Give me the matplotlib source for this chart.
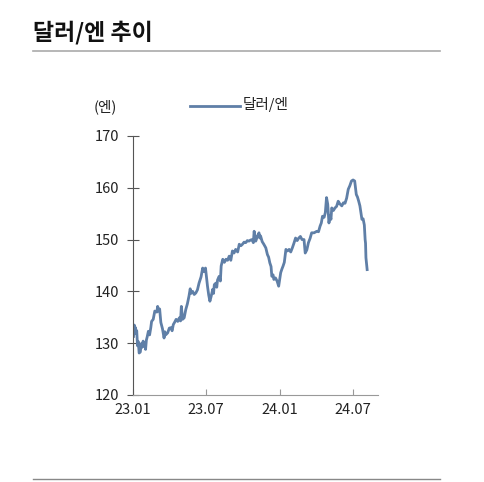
import matplotlib
matplotlib.use('Agg')
import matplotlib.pyplot as plt
import pandas as pd

plt.rcParams['font.family'] = ['Noto Sans CJK KR', 'DejaVu Sans']

# 달러/엔 환율 (그림에서 읽은 근사값)
dates = ['2023-01-02', '2023-01-04', '2023-01-05', '2023-01-07', '2023-01-09', '2023-01-10',
         '2023-01-12', '2023-01-14', '2023-01-16', '2023-01-19', '2023-01-21', '2023-01-23',
         '2023-01-26', '2023-01-28', '2023-01-30', '2023-02-01', '2023-02-03', '2023-02-05',
         '2023-02-08', '2023-02-11', '2023-02-14', '2023-02-16', '2023-02-20', '2023-02-22',
         '2023-02-24', '2023-03-01', '2023-03-03', '2023-03-06', '2023-03-08', '2023-03-11',
         '2023-03-15', '2023-03-19', '2023-03-21', '2023-03-23', '2023-03-28', '2023-04-01',
         '2023-04-05', '2023-04-08', '2023-04-11', '2023-04-14', '2023-04-18', '2023-04-22',
         '2023-04-26', '2023-04-29', '2023-05-01', '2023-05-04', '2023-05-08', '2023-05-12',
         '2023-05-16', '2023-05-20', '2023-05-23', '2023-05-25', '2023-05-29', '2023-06-02',
         '2023-06-06', '2023-06-10', '2023-06-14', '2023-06-19', '2023-06-23', '2023-06-27',
         '2023-06-30', '2023-07-05', '2023-07-08', '2023-07-11', '2023-07-14', '2023-07-18',
         '2023-07-20', '2023-07-22', '2023-07-26', '2023-07-28', '2023-07-30', '2023-08-03',
         '2023-08-06', '2023-08-08', '2023-08-12', '2023-08-16', '2023-08-20', '2023-08-24',
         '2023-08-28', '2023-09-01', '2023-09-05', '2023-09-09', '2023-09-13', '2023-09-18',
         '2023-09-22', '2023-09-26', '2023-09-30', '2023-10-04', '2023-10-08', '2023-10-12',
         '2023-10-16', '2023-10-20', '2023-10-24', '2023-10-27', '2023-10-29', '2023-11-02',
         '2023-11-06', '2023-11-10', '2023-11-12', '2023-11-14', '2023-11-18', '2023-11-22',
         '2023-11-27', '2023-12-01', '2023-12-04', '2023-12-07', '2023-12-10', '2023-12-12',
         '2023-12-15', '2023-12-17', '2023-12-21', '2023-12-25', '2023-12-29', '2024-01-03',
         '2024-01-06', '2024-01-09', '2024-01-12', '2024-01-16', '2024-01-20', '2024-01-24',
         '2024-01-28', '2024-02-01', '2024-02-05', '2024-02-09', '2024-02-13', '2024-02-17',
         '2024-02-21', '2024-02-25', '2024-03-01', '2024-03-04', '2024-03-08', '2024-03-12',
         '2024-03-16', '2024-03-20', '2024-03-26', '2024-04-02', '2024-04-06', '2024-04-10',
         '2024-04-13', '2024-04-16', '2024-04-20', '2024-04-23', '2024-04-26', '2024-04-29',
         '2024-05-02', '2024-05-05', '2024-05-07', '2024-05-09', '2024-05-13', '2024-05-17',
         '2024-05-21', '2024-05-25', '2024-05-29', '2024-06-03', '2024-06-07', '2024-06-11',
         '2024-06-15', '2024-06-19', '2024-06-23', '2024-06-27', '2024-07-01', '2024-07-05',
         '2024-07-09', '2024-07-12', '2024-07-15', '2024-07-18', '2024-07-20', '2024-07-23',
         '2024-07-26', '2024-07-29', '2024-07-31', '2024-08-01', '2024-08-02', '2024-08-05']
usdjpy = [131.3, 133.5, 132.0, 133.0, 131.8, 132.4, 129.5, 130.3, 128.1, 128.3, 129.9, 129.2,
          130.4, 129.4, 130.0, 128.8, 130.6, 131.2, 132.3, 131.6, 133.0, 134.2, 134.6, 135.4,
          136.2, 136.0, 137.1, 136.2, 136.6, 134.0, 132.8, 131.0, 132.2, 131.6, 132.0, 132.9,
          133.0, 132.4, 133.6, 134.0, 134.6, 134.2, 134.9, 134.3, 137.1, 134.6, 134.9, 136.5,
          137.6, 139.1, 140.5, 139.6, 140.0, 139.4, 139.7, 140.3, 141.6, 142.8, 144.5, 143.8,
          144.5, 141.0, 139.3, 138.1, 139.0, 140.4, 139.6, 141.3, 141.6, 140.8, 142.2, 142.9,
          142.0, 144.9, 146.2, 145.6, 146.2, 146.0, 146.8, 146.0, 147.8, 147.4, 148.1, 147.6,
          149.1, 148.8, 149.1, 149.5, 149.4, 149.8, 149.7, 149.9, 150.0, 149.4, 151.6, 149.7,
          150.6, 151.3, 150.3, 150.7, 149.6, 149.1, 148.4, 147.1, 146.6, 145.5, 144.8, 142.9,
          143.2, 142.3, 142.6, 142.0, 141.0, 143.6, 144.3, 144.9, 145.6, 148.1, 147.8, 148.1,
          147.6, 148.4, 149.3, 150.3, 149.8, 150.3, 150.6, 150.0, 150.0, 147.4, 148.0, 149.4,
          150.2, 151.3, 151.3, 151.6, 151.5, 152.6, 153.2, 154.5, 154.3, 155.2, 158.1, 156.8,
          153.2, 154.6, 153.9, 156.1, 155.6, 156.1, 156.4, 157.4, 156.9, 156.5, 157.1, 157.0,
          158.0, 159.7, 160.4, 161.3, 161.5, 161.3, 158.7, 158.2, 157.4, 156.5, 155.5, 153.9,
          154.0, 152.8, 150.0, 149.3, 146.5, 144.2]

y_ticks = [120, 130, 140, 150, 160, 170]
x_ticks = ['2023-01-01', '2023-07-01', '2024-01-01', '2024-07-01']
x_tick_labels = ['23.01', '23.07', '24.01', '24.07']

line_color = '#5f7fa7'

fig = plt.figure(figsize=(4.84, 4.82), dpi=100)
ax = fig.add_axes([0.275, 0.1805, 0.506, 0.5375])

ax.plot(pd.to_datetime(dates), usdjpy, color=line_color, linewidth=2.0,
        solid_joinstyle='round')

ax.set_ylim(120, 170)
ax.set_xlim(pd.Timestamp('2023-01-01'), pd.Timestamp('2024-09-01'))
ax.set_yticks(y_ticks)
ax.set_xticks(pd.to_datetime(x_ticks))
ax.set_xticklabels(x_tick_labels)

for side in ['top', 'right']:
    ax.spines[side].set_visible(False)
ax.spines['left'].set_color('#555555')
ax.spines['bottom'].set_color('#999999')
ax.spines['left'].set_linewidth(0.8)
ax.spines['bottom'].set_linewidth(0.8)

ax.tick_params(axis='y', direction='inout', length=8, width=0.8, color='#555555',
               labelsize=10.5, labelcolor='#222222', pad=6)
ax.tick_params(axis='x', direction='in', length=4, width=0.8, color='#999999',
               labelsize=10.5, labelcolor='#222222', pad=6)

# 제목과 구분선
fig.text(33 / 484, 1 - 33 / 482, '달러/엔 추이', fontsize=16.5, fontweight='bold',
         va='center', ha='left', color='#111111')
fig.add_artist(plt.Line2D([33 / 484, 440 / 484], [1 - 51 / 482, 1 - 51 / 482],
                          color='#aaaaaa', linewidth=1.2))
fig.add_artist(plt.Line2D([33 / 484, 440 / 484], [1 - 479 / 482, 1 - 479 / 482],
                          color='#888888', linewidth=1.0))

# 단위와 범례
fig.text(105 / 484, 1 - 107 / 482, '(엔)', fontsize=10.5, ha='center', va='center',
         color='#222222')
fig.add_artist(plt.Line2D([190 / 484, 240 / 484], [1 - 106 / 482, 1 - 106 / 482],
                          color=line_color, linewidth=2.0))
fig.text(243 / 484, 1 - 105 / 482, '달러/엔', fontsize=10.5, ha='left', va='center',
         color='#222222')

fig.savefig('out.png', dpi=100)
